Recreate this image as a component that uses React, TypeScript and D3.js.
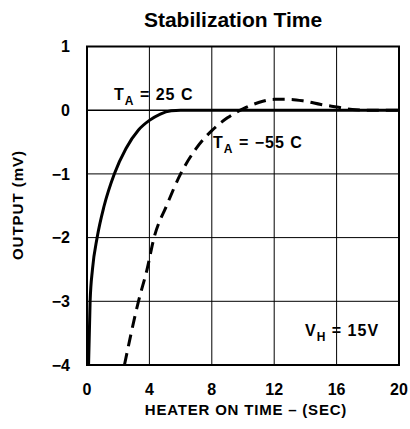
import { useRef, useEffect } from 'react'
import * as d3 from 'd3'

const W = 410
const H = 429
const MARGIN = { top: 46.5, right: 11, bottom: 64, left: 87 }

const X_TICKS = [0, 4, 8, 12, 16, 20]
const Y_TICKS = [1, 0, -1, -2, -3, -4]

// T_A = 25 C (solid)
const WARM_T = [0.1, 0.2, 0.35, 0.65, 1.1, 1.75, 2.5, 3.3, 4, 4.7, 5.4, 6, 8, 12, 16, 20]
const WARM_V = [-4, -3, -2.5, -2, -1.5, -1, -0.6, -0.31, -0.16, -0.06, -0.01, 0, 0, 0, 0, 0]

// T_A = -55 C (dashed)
const COLD_T = [2.4, 3.3, 3.85, 4.3, 5.1, 6, 7, 8, 9, 10, 11, 12, 13, 14, 15, 16, 17, 18, 20]
const COLD_V = [-4, -3, -2.5, -2, -1.5, -1, -0.6, -0.32, -0.12, 0.02, 0.12, 0.17, 0.17, 0.14, 0.09, 0.05, 0.01, 0, 0]

const INK = '#000'
const FONT = "'Liberation Sans', Arial, sans-serif"

export default function App() {
  const svgRef = useRef<SVGSVGElement>(null)

  useEffect(() => {
    document.body.style.margin = '0'
    const svg = svgRef.current
    if (!svg) return
    const sel = d3.select(svg)
    sel.selectAll('*').remove()

    const w = W - MARGIN.left - MARGIN.right
    const h = H - MARGIN.top - MARGIN.bottom
    const x = d3.scaleLinear().domain([0, 20]).range([0, w])
    const y = d3.scaleLinear().domain([-4, 1]).range([h, 0])

    sel.append('rect').attr('width', W).attr('height', H).attr('fill', '#fff')

    sel.append('text')
      .attr('x', 233).attr('y', 27)
      .attr('text-anchor', 'middle')
      .attr('font-family', FONT)
      .attr('font-weight', 'bold').attr('font-size', 21)
      .text('Stabilization Time')

    const g = sel.append('g').attr('transform', `translate(${MARGIN.left},${MARGIN.top})`)

    // grid
    g.selectAll('.vgrid').data(X_TICKS).join('line')
      .attr('x1', (d) => x(d)).attr('x2', (d) => x(d))
      .attr('y1', 0).attr('y2', h)
      .attr('stroke', INK).attr('stroke-width', 1)
    g.selectAll('.hgrid').data(Y_TICKS).join('line')
      .attr('x1', 0).attr('x2', w)
      .attr('y1', (d) => y(d)).attr('y2', (d) => y(d))
      .attr('stroke', INK).attr('stroke-width', (d) => (d === 0 ? 1.5 : 1))

    g.append('rect')
      .attr('x', 0).attr('y', 0).attr('width', w).attr('height', h)
      .attr('fill', 'none').attr('stroke', INK).attr('stroke-width', 2)

    // tick labels
    g.selectAll('.xlab').data(X_TICKS).join('text')
      .attr('x', (d) => x(d)).attr('y', h + 30)
      .attr('text-anchor', 'middle')
      .attr('font-family', FONT).attr('font-weight', 'bold').attr('font-size', 16)
      .text((d) => String(d))
    g.selectAll('.ylab').data(Y_TICKS).join('text')
      .attr('x', -17).attr('y', (d) => y(d)).attr('dy', '0.35em')
      .attr('text-anchor', 'end')
      .attr('font-family', FONT).attr('font-weight', 'bold').attr('font-size', 16)
      .text((d) => (d < 0 ? `\u2212${-d}` : String(d)))

    // axis titles
    sel.append('text')
      .attr('x', 246).attr('y', 415)
      .attr('text-anchor', 'middle')
      .attr('font-family', FONT).attr('font-weight', 'bold').attr('font-size', 15)
      .attr('letter-spacing', 0.8)
      .text('HEATER ON TIME \u2013 (SEC)')
    sel.append('text')
      .attr('transform', 'translate(23,205) rotate(-90)')
      .attr('text-anchor', 'middle')
      .attr('font-family', FONT).attr('font-weight', 'bold').attr('font-size', 15)
      .attr('letter-spacing', 1)
      .text('OUTPUT (mV)')

    const line = d3.line<[number, number]>()
      .x((d) => x(d[0]))
      .y((d) => y(d[1]))
      .curve(d3.curveMonotoneX)

    const warm = WARM_T.map((t, i) => [t, WARM_V[i]] as [number, number])
    const cold = COLD_T.map((t, i) => [t, COLD_V[i]] as [number, number])

    g.append('path').datum(warm).attr('d', line)
      .attr('fill', 'none').attr('stroke', INK).attr('stroke-width', 3)
    g.append('path').datum(cold).attr('d', line)
      .attr('fill', 'none').attr('stroke', INK).attr('stroke-width', 3)
      .attr('stroke-dasharray', '12,7')

    // annotations
    const label = (px: number, py: number, main: string, sub: string, rest: string) => {
      const t = sel.append('text')
        .attr('x', px).attr('y', py)
        .attr('font-family', FONT).attr('font-weight', 'bold').attr('font-size', 16)
        .attr('letter-spacing', 1)
      t.append('tspan').text(main)
      t.append('tspan').attr('dy', 5).attr('font-size', 12).text(sub)
      t.append('tspan').attr('dy', -5).text(rest)
    }
    label(114, 100, 'T', 'A', ' = 25  C')
    label(213, 148, 'T', 'A', ' = \u221255  C')
    label(305, 336, 'V', 'H', ' = 15V')
  }, [])

  return <svg ref={svgRef} width={W} height={H} style={{ display: 'block' }} />
}
